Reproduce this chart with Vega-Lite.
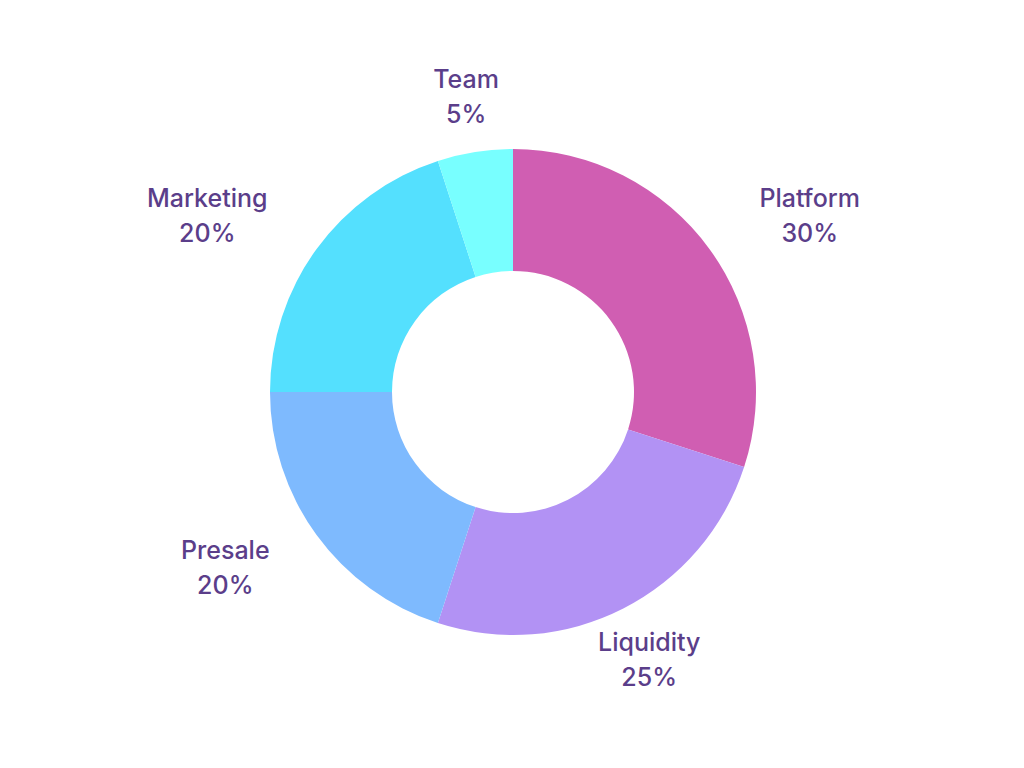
{
  "$schema": "https://vega.github.io/schema/vega-lite/v6.json",
  "width": 1024,
  "height": 768,
  "autosize": {"type": "fit", "contains": "padding"},
  "padding": {"top": 16, "left": 2, "right": 0, "bottom": 0},
  "background": "white",
  "view": {"stroke": null},
  "data": {
    "values": [
      {"category": "Platform", "value": 30, "order": 1},
      {"category": "Liquidity", "value": 25, "order": 2},
      {"category": "Presale", "value": 20, "order": 3},
      {"category": "Marketing", "value": 20, "order": 4},
      {"category": "Team", "value": 5, "order": 5}
    ]
  },
  "transform": [
    {"stack": "value", "groupby": [], "sort": [{"field": "order", "order": "ascending"}], "as": ["t0", "t1"]},
    {"calculate": "(datum.t0 + datum.t1) / 2", "as": "mid"},
    {"calculate": "datum.category + '\\n' + datum.value + '%'", "as": "label"}
  ],
  "encoding": {
    "color": {
      "field": "category",
      "type": "nominal",
      "scale": {
        "domain": ["Platform", "Liquidity", "Presale", "Marketing", "Team"],
        "range": ["#D05EB2", "#B292F4", "#7EBAFE", "#54E0FE", "#78FFFF"]
      },
      "legend": null
    }
  },
  "layer": [
    {
      "mark": {"type": "arc", "outerRadius": 243, "innerRadius": 121, "stroke": null},
      "encoding": {
        "theta": {"field": "t0", "type": "quantitative", "scale": {"domain": [0, 100]}},
        "theta2": {"field": "t1"}
      }
    },
    {
      "transform": [{"filter": "datum.category === 'Platform'"}],
      "mark": {
        "type": "text", "radius": 300, "align": "center", "baseline": "middle",
        "lineBreak": "\n", "lineHeight": 35, "dy": -17, "dx": 54,
        "font": "Inter", "fontSize": 25, "fontWeight": 500
      },
      "encoding": {
        "theta": {"field": "mid", "type": "quantitative", "scale": {"domain": [0, 100]}},
        "text": {"field": "label", "type": "nominal"},
        "color": {"value": "#5B3E8A"}
      }
    },
    {
      "transform": [{"filter": "datum.category === 'Marketing'"}],
      "mark": {
        "type": "text", "radius": 300, "align": "center", "baseline": "middle",
        "lineBreak": "\n", "lineHeight": 35, "dy": -17, "dx": -63,
        "font": "Inter", "fontSize": 25, "fontWeight": 500
      },
      "encoding": {
        "theta": {"field": "mid", "type": "quantitative", "scale": {"domain": [0, 100]}},
        "text": {"field": "label", "type": "nominal"},
        "color": {"value": "#5B3E8A"}
      }
    },
    {
      "transform": [{"filter": "datum.category === 'Presale'"}],
      "mark": {
        "type": "text", "radius": 300, "align": "center", "baseline": "middle",
        "lineBreak": "\n", "lineHeight": 35, "dy": -17, "dx": -45,
        "font": "Inter", "fontSize": 25, "fontWeight": 500
      },
      "encoding": {
        "theta": {"field": "mid", "type": "quantitative", "scale": {"domain": [0, 100]}},
        "text": {"field": "label", "type": "nominal"},
        "color": {"value": "#5B3E8A"}
      }
    },
    {
      "transform": [{"filter": "datum.category === 'Liquidity' || datum.category === 'Team'"}],
      "mark": {
        "type": "text", "radius": 300, "align": "center", "baseline": "middle",
        "lineBreak": "\n", "lineHeight": 35, "dy": -16,
        "font": "Inter", "fontSize": 25, "fontWeight": 500
      },
      "encoding": {
        "theta": {"field": "mid", "type": "quantitative", "scale": {"domain": [0, 100]}},
        "text": {"field": "label", "type": "nominal"},
        "color": {"value": "#5B3E8A"}
      }
    }
  ]
}
